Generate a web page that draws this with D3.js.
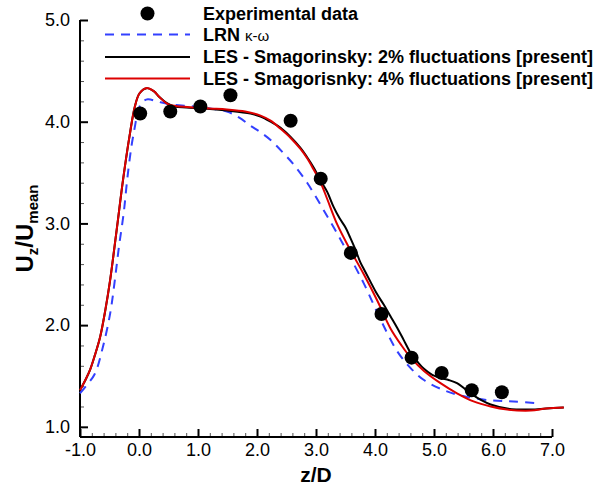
<!DOCTYPE html>
<html>
<head>
<meta charset="utf-8">
<script src="https://cdn.jsdelivr.net/npm/d3@7"></script>
<style>
  body { margin: 0; background: #fff; }
  svg text { font-family: "Liberation Sans", Arial, Helvetica, sans-serif; }
  .tick-label { font-size: 18px; }
</style>
</head>
<body>
<div id="chart"></div>
<script>
// experimental points (z/D, Uz/Umean)
const expZ = [0.02, 0.53, 1.04, 1.55, 2.57, 3.08, 3.59, 4.11, 4.62, 5.13, 5.64, 6.15]
const expU = [4.08, 4.10, 4.15, 4.26, 4.01, 3.44, 2.71, 2.11, 1.68, 1.53, 1.36, 1.34]

// LRN k-omega
const lrnKw = [[-1.0, 1.33], [-0.9, 1.40], [-0.75, 1.52], [-0.61, 1.79], [-0.49, 2.11], [-0.41, 2.44],
  [-0.34, 2.77], [-0.26, 3.10], [-0.20, 3.43], [-0.13, 3.75], [-0.07, 3.95], [-0.02, 4.10], [0.05, 4.19],
  [0.15, 4.22], [0.3, 4.20], [0.53, 4.17], [0.93, 4.15], [1.2, 4.13], [1.49, 4.10], [1.7, 4.04],
  [1.89, 3.96], [2.05, 3.90], [2.23, 3.82], [2.45, 3.69], [2.62, 3.58], [2.85, 3.40], [3.08, 3.18],
  [3.19, 3.07], [3.36, 2.90], [3.53, 2.72], [3.81, 2.41], [4.01, 2.16], [4.2, 1.93], [4.38, 1.74],
  [4.6, 1.58], [4.83, 1.46], [5.17, 1.36], [5.51, 1.30], [5.96, 1.26], [6.35, 1.25], [6.78, 1.23]]

// LES Smagorinsky, 2% fluctuations
const les2 = [[-1.0, 1.36], [-0.9, 1.47], [-0.83, 1.56], [-0.75, 1.70], [-0.66, 1.88], [-0.57, 2.15],
  [-0.49, 2.44], [-0.38, 2.93], [-0.27, 3.43], [-0.16, 3.86], [-0.07, 4.15], [0.01, 4.28], [0.13, 4.33],
  [0.25, 4.30], [0.35, 4.24], [0.48, 4.18], [0.6, 4.15], [0.8, 4.14], [1.1, 4.13], [1.49, 4.11],
  [1.89, 4.08], [2.06, 4.05], [2.23, 4.00], [2.40, 3.94], [2.57, 3.85], [2.74, 3.74], [2.85, 3.65],
  [2.96, 3.55], [3.08, 3.42], [3.19, 3.31], [3.30, 3.16], [3.40, 3.05], [3.50, 2.96], [3.58, 2.86],
  [3.67, 2.74], [3.75, 2.62], [3.83, 2.53], [3.92, 2.43], [4.03, 2.31], [4.15, 2.20], [4.26, 2.09],
  [4.38, 1.97], [4.49, 1.85], [4.60, 1.73], [4.72, 1.64], [4.83, 1.57], [4.97, 1.51], [5.11, 1.48],
  [5.25, 1.46], [5.39, 1.43], [5.53, 1.37], [5.67, 1.31], [5.81, 1.26], [5.96, 1.22], [6.24, 1.18],
  [6.64, 1.17], [6.9, 1.18], [7.2, 1.19]]

// LES Smagorinsky, 4% fluctuations
const les4 = [[-1.0, 1.36], [-0.9, 1.47], [-0.83, 1.56], [-0.75, 1.70], [-0.66, 1.88], [-0.57, 2.15],
  [-0.49, 2.44], [-0.38, 2.93], [-0.27, 3.43], [-0.16, 3.86], [-0.07, 4.15], [0.01, 4.28], [0.12, 4.33],
  [0.25, 4.30], [0.35, 4.24], [0.5, 4.17], [0.7, 4.15], [0.95, 4.14], [1.2, 4.13], [1.49, 4.12],
  [1.8, 4.10], [2.06, 4.06], [2.23, 4.01], [2.40, 3.93], [2.57, 3.84], [2.74, 3.73], [2.85, 3.64],
  [2.96, 3.53], [3.08, 3.40], [3.19, 3.24], [3.36, 2.99], [3.58, 2.74], [3.81, 2.50], [4.04, 2.24],
  [4.26, 1.97], [4.45, 1.80], [4.62, 1.67], [4.83, 1.55], [5.11, 1.43], [5.39, 1.33], [5.67, 1.25],
  [5.96, 1.20], [6.24, 1.17], [6.64, 1.16], [6.9, 1.18], [7.2, 1.19]]

const xTicks = [-1, 0, 1, 2, 3, 4, 5, 6, 7]
const yTicks = [1, 2, 3, 4, 5]

let w = 598,
  h = 491,
  margin = {
    left: 80,
    right: 46,
    top: 20,
    bottom: 54
  };

// plain hyphen for negative labels, like the original
const tickFmt = d => d.toFixed(1)

let svg = d3.select("#chart")
  .append("svg")
  .attr("width", w)
  .attr("height", h);

let x = d3.scaleLinear()
  .domain([-1, 7])
  .range([margin.left, w - margin.right]);

let y = d3.scaleLinear()
  .domain([0.9, 5])
  .range([h - margin.bottom, margin.top]);

// minor ticks every 0.2
let xMinor = d3.range(-1, 7.001, 0.2).filter(v => Math.abs(v - Math.round(v)) > 0.01)
let yMinor = d3.range(1, 5.001, 0.2).filter(v => Math.abs(v - Math.round(v)) > 0.01)

// x axis
let xAxis = svg.append("g")
  .attr("transform", `translate(0,${y(0.9)})`);

xAxis.append("g")
  .call(d3.axisBottom(x).tickValues(xMinor).tickSize(-4).tickFormat(""))
  .call(g => g.select(".domain").remove())
  .call(g => g.selectAll(".tick line").attr("stroke", "#555").attr("stroke-width", 1));

xAxis.append("g")
  .call(d3.axisBottom(x).tickValues(xTicks).tickSize(-8).tickPadding(6).tickFormat(tickFmt))
  .call(g => g.select(".domain").attr("d", `M${x(-1)},0H${x(7)}`).attr("stroke-width", 2))
  .call(g => g.selectAll(".tick line").attr("stroke-width", 2))
  .call(g => g.selectAll(".tick text").attr("class", "tick-label").attr("fill", "#000")
    .attr("font-size", null).attr("font-family", null));

// y axis
let yAxis = svg.append("g")
  .attr("transform", `translate(${x(-1)},0)`);

yAxis.append("g")
  .call(d3.axisLeft(y).tickValues(yMinor).tickSize(-4).tickFormat(""))
  .call(g => g.select(".domain").remove())
  .call(g => g.selectAll(".tick line").attr("stroke", "#555").attr("stroke-width", 1));

yAxis.append("g")
  .call(d3.axisLeft(y).tickValues(yTicks).tickSize(-8).tickPadding(10).tickFormat(tickFmt))
  .call(g => g.select(".domain").attr("d", `M0,${y(5)}V${y(0.9)}`).attr("stroke-width", 2))
  .call(g => g.selectAll(".tick line").attr("stroke-width", 2))
  .call(g => g.selectAll(".tick text").attr("class", "tick-label").attr("fill", "#000")
    .attr("font-size", null).attr("font-family", null));

// axis titles
svg.append("text")
  .attr("x", (x(-1) + x(7)) / 2)
  .attr("y", 482)
  .attr("text-anchor", "middle")
  .attr("font-weight", "bold")
  .attr("font-size", 21)
  .text("z/D");

let yTitle = svg.append("text")
  .attr("transform", `translate(33,${(y(5) + y(0.9)) / 2}) rotate(-90)`)
  .attr("text-anchor", "middle")
  .attr("font-weight", "bold")
  .attr("font-size", 24);
yTitle.append("tspan").text("U");
yTitle.append("tspan").attr("font-size", 15).attr("dy", 5).text("z");
yTitle.append("tspan").attr("dy", -5).text("/U");
yTitle.append("tspan").attr("font-size", 15).attr("dy", 5).text("mean");

// curves
let line = d3.line()
  .x(d => x(d[0]))
  .y(d => y(d[1]))
  .curve(d3.curveCatmullRom.alpha(0.5));

svg.append("path")
  .datum(lrnKw)
  .attr("d", line)
  .attr("fill", "none")
  .attr("stroke", "#3340ff")
  .attr("stroke-width", 2)
  .attr("stroke-dasharray", "9,7");

svg.append("path")
  .datum(les2)
  .attr("d", line)
  .attr("fill", "none")
  .attr("stroke", "#000")
  .attr("stroke-width", 2);

svg.append("path")
  .datum(les4)
  .attr("d", line)
  .attr("fill", "none")
  .attr("stroke", "#dd0000")
  .attr("stroke-width", 2);

// experimental points
svg.append("g")
  .selectAll("circle")
  .data(expZ)
  .enter()
  .append("circle")
  .attr("cx", d => x(d))
  .attr("cy", (d, i) => y(expU[i]))
  .attr("r", 7)
  .attr("fill", "#000");

// legend
let legendX1 = 105,
  legendX2 = 190,
  legendText = 203;

let legend = svg.append("g").attr("font-weight", "bold").attr("font-size", 18);

legend.append("circle")
  .attr("cx", (legendX1 + legendX2) / 2)
  .attr("cy", 13.5)
  .attr("r", 7)
  .attr("fill", "#000");
legend.append("text").attr("x", legendText).attr("y", 20).text("Experimental data");

legend.append("line")
  .attr("x1", legendX1).attr("x2", legendX2)
  .attr("y1", 34.5).attr("y2", 34.5)
  .attr("stroke", "#3340ff").attr("stroke-width", 2).attr("stroke-dasharray", "9,7");
let lrnLabel = legend.append("text").attr("x", legendText).attr("y", 41);
lrnLabel.append("tspan").text("LRN ");
lrnLabel.append("tspan").attr("font-weight", "normal").attr("font-size", 15).text("\u03ba-\u03c9");

legend.append("line")
  .attr("x1", legendX1).attr("x2", legendX2)
  .attr("y1", 57).attr("y2", 57)
  .attr("stroke", "#000").attr("stroke-width", 2);
legend.append("text").attr("x", legendText).attr("y", 63)
  .text("LES - Smagorinsky: 2% fluctuations [present]");

legend.append("line")
  .attr("x1", legendX1).attr("x2", legendX2)
  .attr("y1", 78.5).attr("y2", 78.5)
  .attr("stroke", "#dd0000").attr("stroke-width", 2);
legend.append("text").attr("x", legendText).attr("y", 85)
  .text("LES - Smagorisnky: 4% fluctuations [present]");
</script>
</body>
</html>
